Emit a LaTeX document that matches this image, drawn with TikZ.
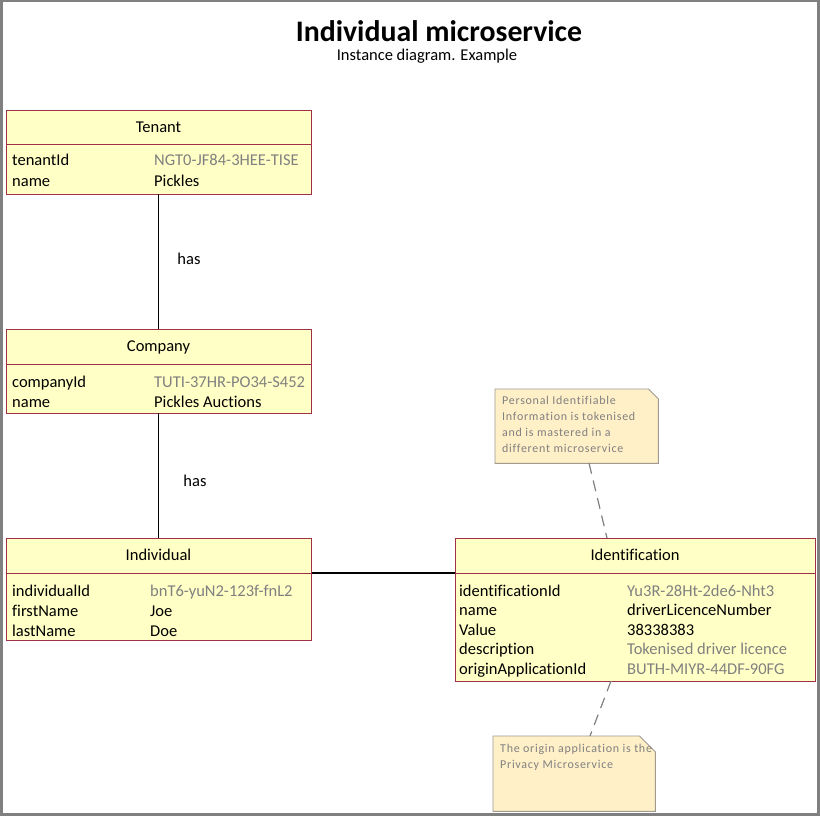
\documentclass[tikz,border=0pt]{standalone}
\usepackage{fontspec}
\setmainfont{Carlito}[Ligatures=NoCommon]
\newfontfamily\notefont[LetterSpace=6,Ligatures=NoCommon]{Carlito}
\definecolor{boxfill}{HTML}{FFFFC6}
\definecolor{boxedge}{HTML}{A0304A}
\definecolor{notefill}{HTML}{FFF0C8}
\definecolor{noteedge}{HTML}{A09A90}
\definecolor{valgray}{HTML}{808080}
\definecolor{framegray}{HTML}{808080}
\begin{document}
\begin{tikzpicture}[x=1pt,y=-1pt,
  box/.style={draw=boxedge, fill=boxfill, line width=0.9pt, minimum width=305pt, anchor=north west, inner sep=0pt},
  hdr/.style={font=\fontsize{16.5}{19}\selectfont},
  attr/.style={anchor=base west, inner sep=0pt, font=\fontsize{16.5}{19}\selectfont},
  val/.style={attr, text=valgray},
  divider/.style={draw=boxedge, line width=0.9pt},
  conn/.style={draw=black, line width=1.2pt},
  notebox/.style={inner sep=0pt, anchor=north west},
  notetext/.style={anchor=north west, inner sep=0pt, align=left, text=valgray, font=\notefont\fontsize{12}{16}\selectfont},
  noteline/.style={draw=valgray, line width=1.2pt, dash pattern=on 11pt off 7pt},
  lbl/.style={font=\fontsize{16.5}{19}\selectfont}
]
\useasboundingbox (0,0) rectangle (820,816);
\draw[framegray, line width=2.5pt] (1.25,1.25) rectangle (818.5,814.5);

% title
\node[font=\fontsize{29.8}{32}\bfseries\selectfont] (title) at (439,31) {Individual microservice};
\node[font=\fontsize{16.5}{19}\selectfont] (subtitle) at (427,56) {Instance diagram. Example};

% Tenant
\node[box, minimum height=84pt] (tenant) at (6,110) {};
\draw[divider] (6,144) -- (311,144);
\node[hdr] (tenantT) at (158.5,127) {Tenant};
\node[attr] (t1) at (12,165) {tenantId};
\node[val] (t1v) at (154,165) {NGT0-JF84-3HEE-TISE};
\node[attr] (t2) at (12,186) {name};
\node[attr] (t2v) at (154,186) {Pickles};

% Company
\node[box, minimum height=84pt] (company) at (6,329) {};
\draw[divider] (6,364) -- (311,364);
\node[hdr] (companyT) at (158.5,347) {Company};
\node[attr] (c1) at (12,387) {companyId};
\node[val] (c1v) at (154,387) {TUTI-37HR-PO34-S452};
\node[attr] (c2) at (12,407) {name};
\node[attr] (c2v) at (154,407) {Pickles Auctions};

% Individual
\node[box, minimum height=102pt] (individual) at (6,538) {};
\draw[divider] (6,573) -- (311,573);
\node[hdr] (individualT) at (158.5,555) {Individual};
\node[attr] (i1) at (12,596) {individualId};
\node[val] (i1v) at (150,596) {bnT6-yuN2-123f-fnL2};
\node[attr] (i2) at (12,616) {firstName};
\node[attr] (i2v) at (150,616) {Joe};
\node[attr] (i3) at (12,636) {lastName};
\node[attr] (i3v) at (150,636) {Doe};

% Identification
\node[box, minimum width=360pt, minimum height=143pt] (ident) at (455,538) {};
\draw[divider] (455,573) -- (815,573);
\node[hdr] (identT) at (635,555) {Identification};
\node[attr] (d1) at (459,596) {identificationId};
\node[val] (d1v) at (627,596) {Yu3R-28Ht-2de6-Nht3};
\node[attr] (d2) at (459,615) {name};
\node[attr] (d2v) at (627,615) {driverLicenceNumber};
\node[attr] (d3) at (459,635) {Value};
\node[attr] (d3v) at (627,635) {38338383};
\node[attr] (d4) at (459,654) {description};
\node[val] (d4v) at (627,654) {Tokenised driver licence};
\node[attr] (d5) at (459,674) {originApplicationId};
\node[val] (d5v) at (627,674) {BUTH-MIYR-44DF-90FG};

% connectors
\draw[conn] (158.5,194) coordinate (tb) -- (158.5,329) coordinate (ct);
\node[lbl] (has1) at (189,259) {has};
\draw[conn] (158.5,413) coordinate (cb) -- (158.5,538) coordinate (it);
\node[lbl] (has2) at (195,481) {has};
\draw[conn] (individual.east |- 0,573) -- (ident.west |- 0,573);

% note 1
\node[notebox, minimum width=163pt, minimum height=74pt] (note1) at (495,389) {};
\filldraw[fill=notefill, draw=noteedge, line width=0.9pt]
  (note1.north west) -- ([xshift=-10pt]note1.north east) -- ([yshift=-10pt]note1.north east) -- (note1.south east) -- (note1.south west) -- cycle;
\node[notetext] (note1t) at (502,396) {Personal Identifiable\\Information is tokenised\\and is mastered in a\\different microservice};

% note 2
\node[notebox, minimum width=162pt, minimum height=75pt] (note2) at (493,736) {};
\filldraw[fill=notefill, draw=noteedge, line width=0.9pt]
  (note2.north west) -- ([xshift=-16pt]note2.north east) -- ([yshift=-16pt]note2.north east) -- (note2.south east) -- (note2.south west) -- cycle;
\node[notetext] (note2t) at (500,744) {The origin application is the\\Privacy Microservice};

% dashed note links
\coordinate (n1a) at (589,463);
\coordinate (n1b) at (607,538);
\draw[noteline] (n1a) -- (n1b);
\coordinate (n2a) at (611,681);
\coordinate (n2b) at (590,736);
\draw[noteline] (n2a) -- (n2b);
\end{tikzpicture}
\end{document}
